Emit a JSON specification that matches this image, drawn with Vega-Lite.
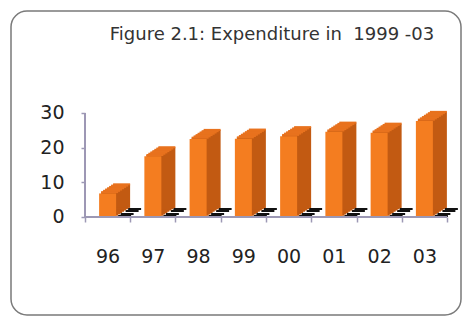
{
  "$schema": "https://vega.github.io/schema/vega-lite/v6.json",
  "width": 450,
  "height": 304,
  "autosize": {"type": "none"},
  "padding": {"left": 11, "top": 11, "right": 5, "bottom": 5},
  "background": "white",
  "config": {
    "view": {"stroke": "#7a7a7a", "strokeWidth": 1.5, "cornerRadius": 16},
    "font": "DejaVu Sans"
  },
  "title": {
    "text": "Figure 2.1: Expenditure in\u00a0 1999 -03",
    "font": "DejaVu Sans",
    "fontSize": 18,
    "fontWeight": "normal",
    "color": "#333333",
    "anchor": "middle",
    "frame": "group",
    "baseline": "alphabetic",
    "offset": -31,
    "dy": 16,
    "dx": 36
  },
  "data": {
    "values": [
      {"year": "96", "value": 6.8},
      {"year": "97", "value": 17.5},
      {"year": "98", "value": 22.5},
      {"year": "99", "value": 22.6},
      {"year": "00", "value": 23.3},
      {"year": "01", "value": 24.6},
      {"year": "02", "value": 24.3},
      {"year": "03", "value": 27.7}
    ]
  },
  "encoding": {
    "x": {
      "field": "year",
      "type": "ordinal",
      "sort": null,
      "scale": {"paddingInner": 0, "paddingOuter": 0.972, "align": 0.841},
      "axis": {
        "title": null,
        "offset": -98,
        "domain": false,
        "tickBand": "extent",
        "tickSize": 5,
        "tickColor": "#9d98b5",
        "tickWidth": 1.5,
        "labelPadding": 25,
        "labelFontSize": 19,
        "labelFont": "DejaVu Sans",
        "labelColor": "#222222",
        "labelAngle": 0
      }
    },
    "y": {
      "field": "value",
      "type": "quantitative",
      "scale": {"domain": [-28.27, 59.42], "nice": false, "zero": false},
      "axis": {
        "title": null,
        "values": [0, 10, 20, 30],
        "offset": -74,
        "domain": false,
        "grid": false,
        "tickSize": 4,
        "tickColor": "#9d98b5",
        "tickWidth": 1.5,
        "labelPadding": 17,
        "labelFontSize": 19,
        "labelFont": "DejaVu Sans",
        "labelColor": "#222222"
      }
    }
  },
  "layer": [
    {"mark": {"type": "bar", "color": "#111111", "width": 13, "xOffset": 17, "yOffset": -2, "y2Offset": 0},
     "encoding": {"y": {"datum": 0}, "y2": {"datum": 0}}},
    {"mark": {"type": "bar", "color": "#111111", "width": 13, "xOffset": 19.5, "yOffset": -4, "y2Offset": -2},
     "encoding": {"y": {"datum": 0}, "y2": {"datum": 0}}},
    {"mark": {"type": "bar", "color": "#ffffff", "width": 11, "xOffset": 22, "yOffset": -5, "y2Offset": -4},
     "encoding": {"y": {"datum": 0}, "y2": {"datum": 0}}},
    {"mark": {"type": "bar", "color": "#111111", "width": 13, "xOffset": 24.5, "yOffset": -7, "y2Offset": -5},
     "encoding": {"y": {"datum": 0}, "y2": {"datum": 0}}},
    {"mark": {"type": "bar", "color": "#111111", "width": 13, "xOffset": 27, "yOffset": -9, "y2Offset": -7},
     "encoding": {"y": {"datum": 0}, "y2": {"datum": 0}}},
    {"mark": {"type": "bar", "color": "#c25a12", "width": 17, "xOffset": 2, "yOffset": -1.3, "y2Offset": -1.3}, "encoding": {"y2": {"datum": 0}}},
    {"mark": {"type": "bar", "color": "#c25a12", "width": 17, "xOffset": 4, "yOffset": -2.6, "y2Offset": -2.6}, "encoding": {"y2": {"datum": 0}}},
    {"mark": {"type": "bar", "color": "#c25a12", "width": 17, "xOffset": 6, "yOffset": -3.9, "y2Offset": -3.9}, "encoding": {"y2": {"datum": 0}}},
    {"mark": {"type": "bar", "color": "#c25a12", "width": 17, "xOffset": 8, "yOffset": -5.2, "y2Offset": -5.2}, "encoding": {"y2": {"datum": 0}}},
    {"mark": {"type": "bar", "color": "#c25a12", "width": 17, "xOffset": 10, "yOffset": -6.5, "y2Offset": -6.5}, "encoding": {"y2": {"datum": 0}}},
    {"mark": {"type": "bar", "color": "#c25a12", "width": 17, "xOffset": 12, "yOffset": -7.8, "y2Offset": -7.8}, "encoding": {"y2": {"datum": 0}}},
    {"mark": {"type": "bar", "color": "#c25a12", "width": 17, "xOffset": 14, "yOffset": -9.1, "y2Offset": -9.1}, "encoding": {"y2": {"datum": 0}}},
    {"mark": {"type": "bar", "color": "#e8721e", "width": 17, "xOffset": 2, "yOffset": -2.3, "y2Offset": -0.3}, "encoding": {"y2": {"field": "value"}}},
    {"mark": {"type": "bar", "color": "#e8721e", "width": 17, "xOffset": 4, "yOffset": -3.6, "y2Offset": -1.6}, "encoding": {"y2": {"field": "value"}}},
    {"mark": {"type": "bar", "color": "#e8721e", "width": 17, "xOffset": 6, "yOffset": -4.9, "y2Offset": -2.9}, "encoding": {"y2": {"field": "value"}}},
    {"mark": {"type": "bar", "color": "#e8721e", "width": 17, "xOffset": 8, "yOffset": -6.2, "y2Offset": -4.2}, "encoding": {"y2": {"field": "value"}}},
    {"mark": {"type": "bar", "color": "#e8721e", "width": 17, "xOffset": 10, "yOffset": -7.5, "y2Offset": -5.5}, "encoding": {"y2": {"field": "value"}}},
    {"mark": {"type": "bar", "color": "#e8721e", "width": 17, "xOffset": 12, "yOffset": -8.8, "y2Offset": -6.8}, "encoding": {"y2": {"field": "value"}}},
    {"mark": {"type": "bar", "color": "#e8721e", "width": 17, "xOffset": 14, "yOffset": -10.1, "y2Offset": -8.1}, "encoding": {"y2": {"field": "value"}}},
    {"mark": {"type": "bar", "color": "#f47d20", "width": 17}, "encoding": {"y2": {"datum": 0}}},
    {"mark": {"type": "rule", "color": "#9d98b5", "strokeWidth": 1.5},
     "encoding": {"x": {"datum": "96", "bandPosition": 0}, "y": {"datum": 0}, "y2": {"datum": 30}}},
    {"mark": {"type": "rule", "color": "#9d98b5", "strokeWidth": 1.5},
     "encoding": {"x": {"datum": "96", "bandPosition": 0}, "x2": {"datum": "03", "bandPosition": 1}, "y": {"datum": 0}}}
  ]
}
